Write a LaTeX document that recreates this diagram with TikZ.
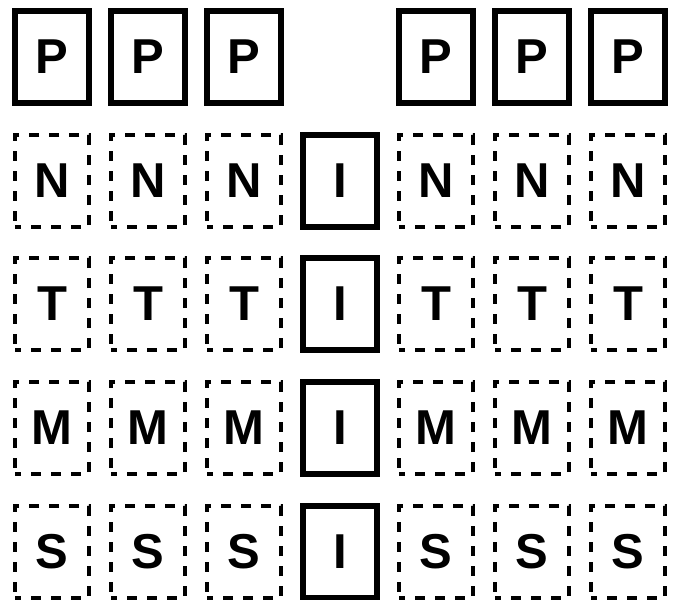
\documentclass[tikz,border=0pt]{standalone}
\usepackage{fontspec}
\setmainfont{Liberation Sans}
\begin{document}
\begin{tikzpicture}[x=1pt,y=-1pt,
  cell/.style={minimum width=74pt,minimum height=92pt,inner sep=0pt,outer sep=0pt,
    font=\fontsize{49}{49}\selectfont\bfseries},
  solidbox/.style={cell,draw,line width=6pt},
  dashbox/.style={cell,draw,line width=3.5pt,dash pattern=on 10pt off 10pt,dash phase=4pt}]
\useasboundingbox (0,0) rectangle (676,599);
% row 1: P boxes
\foreach \x [count=\i] in {52,148,244} \node[solidbox] (p\i) at (\x,57) {P};
\foreach \x [count=\i from 5] in {436,532,628} \node[solidbox] (p\i) at (\x,57) {P};
% rows 2-5
\foreach \y/\L/\r in {181/N/2,304/T/3,428/M/4,552/S/5}{
  \foreach \x [count=\i] in {52,148,244} \node[dashbox] (c\r-\i) at (\x,\y) {\L};
  \node[solidbox] (c\r-4) at (340,\y) {I};
  \foreach \x [count=\i from 5] in {436,532,628} \node[dashbox] (c\r-\i) at (\x,\y) {\L};
}
\end{tikzpicture}
\end{document}
